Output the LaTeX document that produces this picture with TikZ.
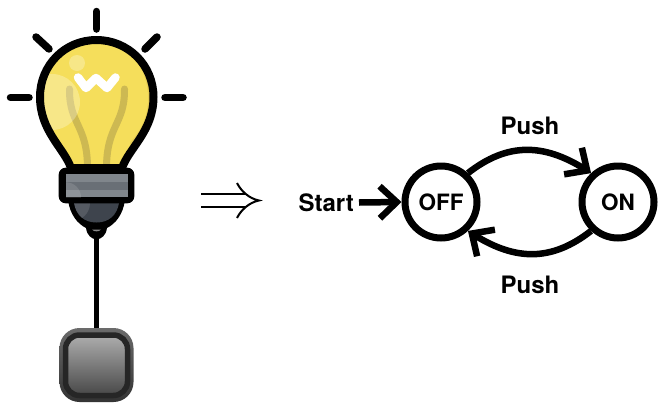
\documentclass[tikz,border=0pt]{standalone}
\usepackage{fontspec}
\setmainfont{TeX Gyre Heros}
\usetikzlibrary{arrows.meta,bending}
\definecolor{bulbY}{HTML}{F5DE5B}
\definecolor{bulbD}{HTML}{E8CE55}
\definecolor{filam}{HTML}{CDB952}
\definecolor{collarA}{HTML}{80868C}
\definecolor{collarB}{HTML}{696F76}
\definecolor{sockA}{HTML}{3E444D}
\tikzset{
  state/.style={circle,draw=black,line width=7pt,fill=white,minimum size=72pt,inner sep=0pt,font=\fontsize{22.5}{23}\selectfont\bfseries},
  lbl/.style={inner sep=0pt,font=\fontsize{24}{24}\selectfont\bfseries},
  flow/.style={line width=6.5pt,-{Straight Barb[length=17pt,width=32pt]}},
  ray/.style={line width=7.5pt,line cap=round,black},
  wirestyle/.style={line width=5.5pt,black},
  bulbline/.style={line width=8pt,line join=round},
}
\begin{document}
\begin{tikzpicture}[x=1pt,y=-1pt]
\useasboundingbox (0,0) rectangle (658,402);
% rays
\draw[ray] (96.5,11.5)--(96.5,29);
\draw[ray] (10.5,97.5)--(29,97.5);
\draw[ray] (165,97.5)--(183,97.5);
\draw[ray] (36,37)--(49,49);
\draw[ray] (157,37)--(145,49);
% wire
\coordinate (tip) at (96.5,236);
\node[draw=none,minimum size=74pt,inner sep=0pt,rounded corners=20pt,
      top color=black!58,bottom color=black!80,shape=rectangle] (button) at (96.5,365) {};
\draw[wirestyle] (tip)--(button.north);
% button detail
\draw[line width=5.5pt,draw=black!85,rounded corners=14pt,top color=black!32,bottom color=black!72]
  (65.5,335) rectangle (127.5,395.5);
% bulb
\def\bulbpath{(71,168) .. controls (64,148) and (40,131) .. (40,97)
   .. controls (40,65) and (65,40) .. (96.5,40)
   .. controls (128,40) and (153.5,65) .. (153.5,97)
   .. controls (153.5,131) and (129,148) .. (122,168) -- cycle}
\fill[bulbD] \bulbpath;
\begin{scope}
  \clip \bulbpath;
  \fill[bulbY] (88,98) ellipse (60 and 62);
  \fill[bulbY] (60,120) rectangle (130,170);
  \draw[filam,line width=7pt,line cap=round] (69.5,89) .. controls (69,125) and (88,125) .. (87.5,170);
  \draw[filam,line width=7pt,line cap=round] (124.5,89) .. controls (125,125) and (106,125) .. (106.5,170);
  \fill[white,opacity=.28] (52,102) circle (28);
  \fill[white,opacity=.28] (77,63) circle (8);
\end{scope}
\draw[white,line width=8.5pt,line cap=round,line join=round] (78,77.5)--(86,88)--(96,78)--(107,88)--(115.5,77.5);
\draw[bulbline,black] \bulbpath;
% socket
\fill[black] (68,200) .. controls (70,215) and (78,224) .. (86,228)
  .. controls (88,243) and (105,243) .. (107,228)
  .. controls (115,224) and (123,215) .. (125,200) -- cycle;
\fill[sockA] (74,203) .. controls (76,215) and (84,222.5) .. (96.5,222.5)
  .. controls (109,222.5) and (117,215) .. (119,203) -- cycle;
\begin{scope}
  \clip (74,203) .. controls (76,215) and (84,222.5) .. (96.5,222.5)
  .. controls (109,222.5) and (117,215) .. (119,203) -- cycle;
  \fill[white,opacity=.12] (72,203) circle (18);
\end{scope}
\fill[black!45] (92,229.5) .. controls (94,232) and (99,232) .. (101,229.5) -- cycle;
% collar
\fill[black,rounded corners=7pt] (58.7,167.7) rectangle (134.3,203.3);
\fill[collarA] (66,174) rectangle (127.7,197.3);
\fill[collarB] (66,181.5) rectangle (127.7,190);
\begin{scope}
  \clip (66,174) rectangle (127.7,197.3);
  \fill[white,opacity=.12] (66,197.3) circle (15);
\end{scope}
% implies arrow
\draw[line width=2pt] (201,194)--(246,194) (201,207)--(246,207);
\draw[line width=2pt] (237,183) .. controls (241,191) and (249,198.5) .. (259,200.5)
  .. controls (249,202.5) and (241,210) .. (237,218);
% automaton
\node[state] (off) at (441,202) {OFF};
\node[state] (on) at (618,202) {ON};
\node[lbl,anchor=east] (start) at (354,202.5) {Start};
\node[lbl] (pushtop) at (530,125.5) {Push};
\node[lbl] (pushbot) at (530,285) {Push};
\draw[flow] (start.east)++(5,0) coordinate (startend) -- (off.west);
\draw[flow] (off.47) to[out=38,in=146,looseness=1.1] (on.133);
\draw[flow] (on.-133) to[out=218,in=-34,looseness=1.1] (off.-47);
\end{tikzpicture}
\end{document}
